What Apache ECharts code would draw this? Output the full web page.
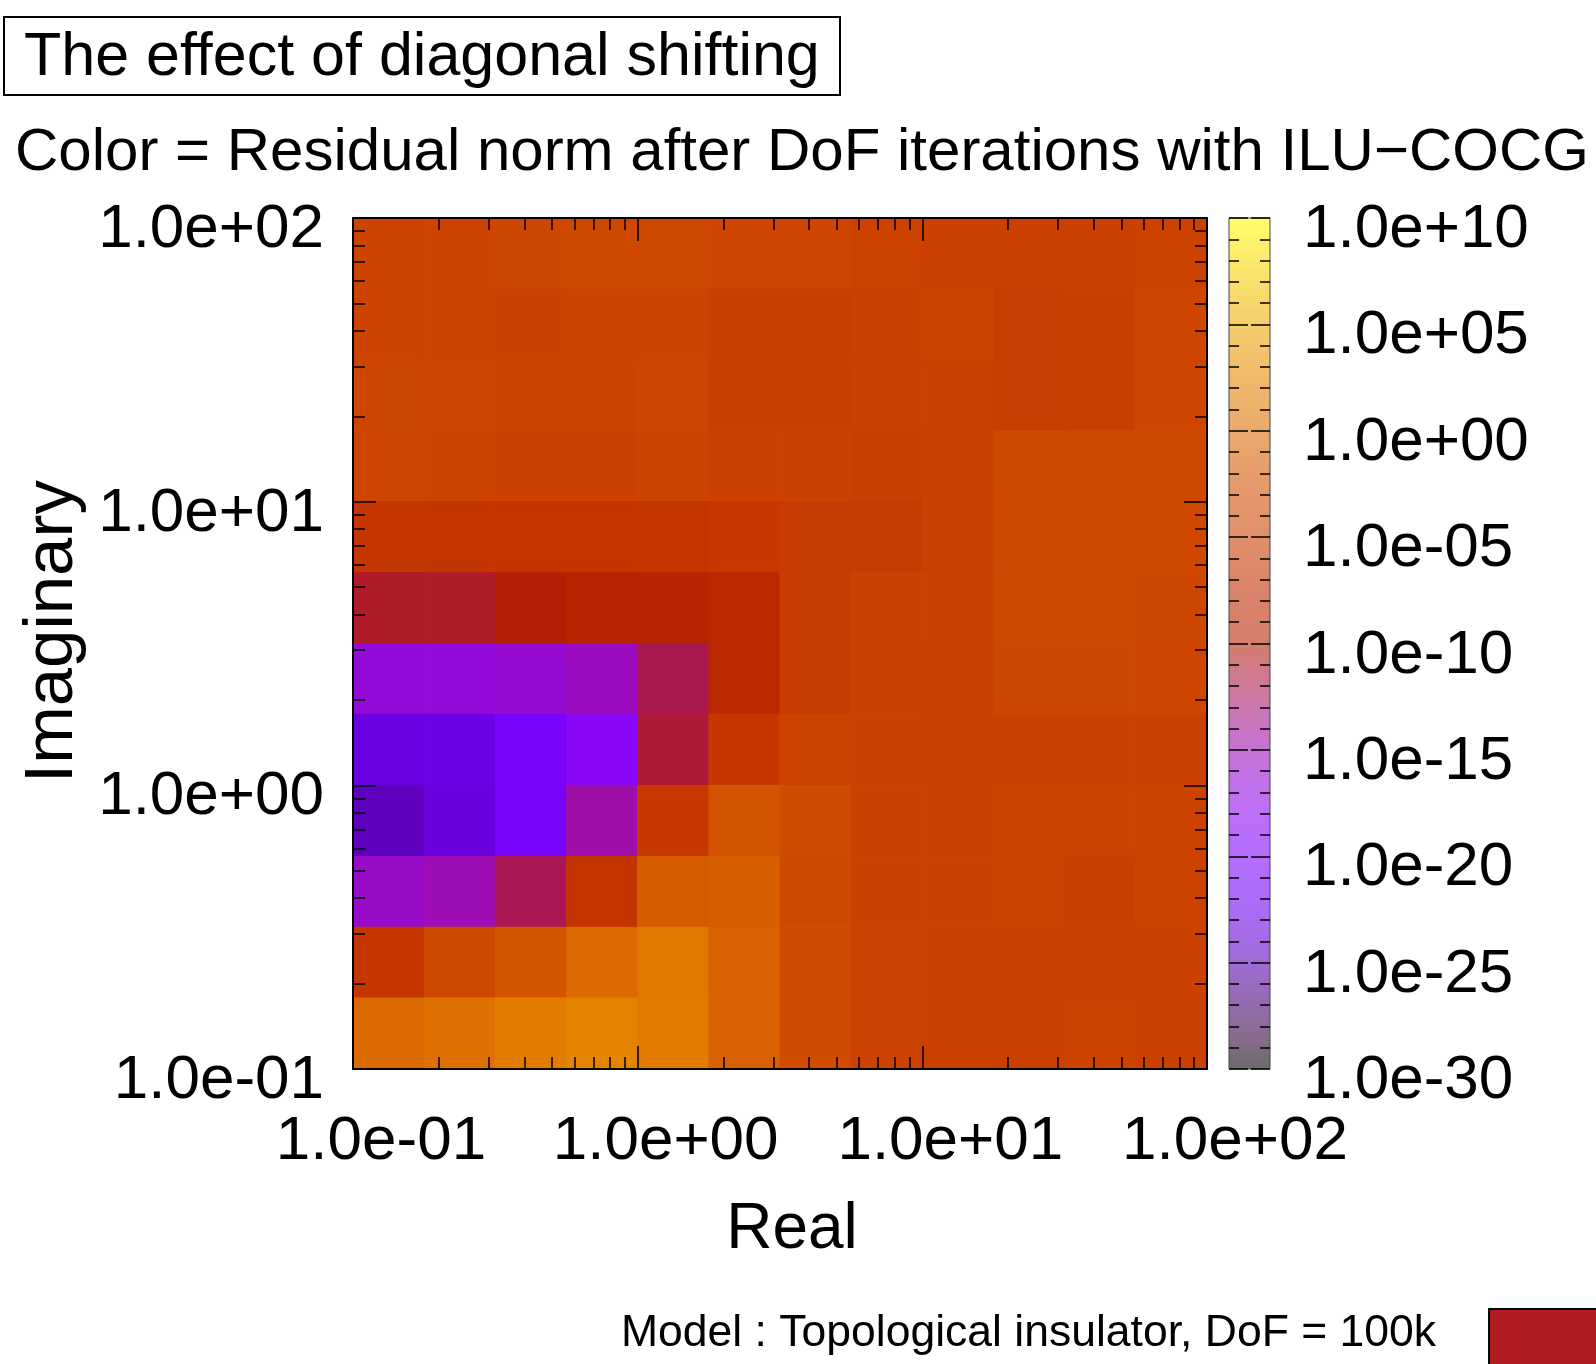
<!DOCTYPE html>
<html>
<head>
<meta charset="utf-8">
<script src="https://cdn.jsdelivr.net/npm/echarts@6/dist/echarts.min.js"></script>
<style>
  html, body { margin: 0; padding: 0; background: #fff; }
  #heat { width: 1596px; height: 1364px; }
</style>
</head>
<body>
<div id="heat"></div>
<script>
// cell edges of the shift grid (4 cells per decade)
var realEdges = [0.1, 0.178, 0.316, 0.562, 1, 1.78, 3.16, 5.62, 10, 17.8, 31.6, 56.2, 100];
var imagEdges = [0.1, 0.178, 0.316, 0.562, 1, 1.78, 3.16, 5.62, 10, 17.8, 31.6, 56.2, 100];

// log10(residual norm), rows from top (Imag 56-100) down to bottom (Imag 0.1-0.18)
var log10Residual = [
    [-4.3, -4.3, -3.9, -3.7, -3.8, -4.0, -4.0, -4.4, -4.7, -4.8, -4.8, -4.4],
    [-4.3, -4.3, -4.6, -4.3, -4.3, -4.9, -4.9, -4.6, -4.3, -5.1, -4.9, -4.0],
    [-3.9, -4.1, -4.2, -4.2, -4.0, -4.9, -4.9, -4.6, -4.6, -5.1, -4.9, -4.0],
    [-4.1, -4.3, -4.6, -4.6, -4.3, -4.6, -4.6, -4.9, -4.6, -3.7, -3.7, -3.7],
    [-6.3, -6.4, -6.4, -6.4, -6.3, -5.9, -5.4, -5.4, -4.7, -3.7, -3.7, -3.7],
    [-11.0, -11.0, -10.1, -9.2, -9.2, -8.3, -5.3, -4.6, -4.6, -3.7, -3.7, -3.9],
    [-16.5, -16.5, -16.2, -15.4, -12.0, -8.3, -5.3, -4.6, -4.8, -3.9, -3.9, -4.0],
    [-23.1, -22.8, -21.1, -18.3, -11.4, -6.0, -4.4, -4.6, -4.7, -4.6, -4.6, -4.6],
    [-24.6, -23.3, -21.1, -14.6, -5.9, -2.4, -3.4, -4.6, -4.6, -4.2, -4.2, -4.4],
    [-15.8, -15.0, -12.2, -6.4, -1.5, -1.3, -3.6, -4.6, -4.6, -4.3, -5.0, -4.4],
    [-6.2, -3.7, -2.3, -0.2, 1.1, -1.0, -3.3, -4.5, -4.6, -4.7, -4.8, -4.6],
    [-0.2, 0.4, 1.4, 2.0, 1.3, -1.0, -3.3, -4.5, -4.6, -4.8, -4.4, -4.6]
];

// log axis minor tick positions (2..9 of each decade)
var minorTicks = [0.2, 0.3, 0.4, 0.5, 0.6, 0.7, 0.8, 0.9, 2, 3, 4, 5, 6, 7, 8, 9, 20, 30, 40, 50, 60, 70, 80, 90];

var seriesName = 'Model : Topological insulator, DoF = 100k';
var FONT = "'Liberation Sans', Arial, sans-serif";

// gnuplot default palette (rgbformulae 7,5,15)
function gnuplotColor(t) {
    var r = Math.sqrt(t), g = t * t * t, b = Math.max(0, Math.sin(2 * Math.PI * t));
    return 'rgb(' + Math.round(r * 255) + ',' + Math.round(g * 255) + ',' + Math.round(b * 255) + ')';
}
var paletteStops = [];
for (var i = 0; i <= 40; i++) paletteStops.push(gnuplotColor(i / 40));

function expLabel(e) {
    var a = Math.abs(e);
    return '1.0e' + (e < 0 ? '-' : '+') + (a < 10 ? '0' : '') + a;
}
function logLabel(v) {
    return expLabel(Math.round(Math.log10(v)));
}

var cells = [];
log10Residual.forEach(function (row, k) {
    var r = log10Residual.length - 1 - k;
    row.forEach(function (v, c) {
        cells.push([realEdges[c], imagEdges[r], v, realEdges[c + 1], imagEdges[r + 1]]);
    });
});

function renderCell(params, api) {
    var p0 = api.coord([api.value(0), api.value(1)]);
    var p1 = api.coord([api.value(3), api.value(4)]);
    var col = api.visual('color');
    return {
        type: 'rect',
        shape: { x: p0[0], y: p1[1], width: p1[0] - p0[0], height: p0[1] - p1[1] },
        style: { fill: col, stroke: col, lineWidth: 1 }
    };
}

function logAxis(pos, withLabels, minor) {
    var isX = (pos === 'bottom' || pos === 'top');
    var ax = {
        gridIndex: 0,
        type: 'log',
        logBase: 10,
        min: 0.1,
        max: 100,
        position: pos,
        z: 10,
        splitLine: { show: false },
        axisLine: { show: !minor, onZero: false, lineStyle: { color: '#000', width: 2 } },
        axisTick: { show: true, inside: true, length: minor ? 12 : 23, lineStyle: { color: '#000', width: 1.5 } },
        axisLabel: { show: false }
    };
    if (minor) {
        ax.axisTick.customValues = minorTicks;
    }
    if (withLabels) {
        ax.axisLabel = isX ? {
            show: true, formatter: logLabel, color: '#000', fontFamily: FONT, fontSize: 62,
            margin: 42, padding: [0, 0, 0, 56]
        } : {
            show: true, formatter: logLabel, color: '#000', fontFamily: FONT, fontSize: 62,
            margin: 29, verticalAlign: 'top', lineHeight: 24
        };
        ax.name = isX ? 'Real' : 'Imaginary';
        ax.nameLocation = 'middle';
        ax.nameGap = isX ? 129 : 255;
        ax.nameTextStyle = isX
            ? { color: '#000', fontFamily: FONT, fontSize: 64, padding: [0, 0, 0, 24] }
            : { color: '#000', fontFamily: FONT, fontSize: 69, padding: [0, 0, 0, 24] };
    }
    return ax;
}

// colour box ticks, one axis on each side of the box
function cbAxis(side) {
    return {
        gridIndex: 1,
        type: 'value',
        min: -30,
        max: 10,
        interval: 5,
        position: side,
        z: 130,
        splitLine: { show: false },
        axisLine: { show: false, onZero: false },
        axisTick: { show: true, inside: true, length: 19, lineStyle: { color: '#000', width: 1.5 } },
        minorTick: { show: true, splitNumber: 5, length: 10, lineStyle: { color: '#000', width: 1.5 } },
        axisLabel: side === 'left' ? { show: false } : {
            show: true, formatter: expLabel, color: '#000', fontFamily: FONT,
            fontSize: 62, margin: 33, verticalAlign: 'top', lineHeight: 24
        }
    };
}

var option = {
    backgroundColor: '#fff',
    animation: false,
    title: [
        {
            text: 'The effect of diagonal shifting',
            left: 4,
            top: 17,
            padding: [11, 20, 7, 20],
            borderColor: '#000',
            borderWidth: 2,
            textStyle: { color: '#000', fontFamily: FONT, fontSize: 61, fontWeight: 'normal', lineHeight: 60 }
        },
        {
            text: 'Color = Residual norm after DoF iterations with ILU\u2212COCG',
            left: 15,
            top: 123,
            padding: 0,
            textStyle: { color: '#000', fontFamily: FONT, fontSize: 60, fontWeight: 'normal', lineHeight: 60 }
        }
    ],
    legend: {
        left: 621,
        top: 1308,
        padding: 0,
        icon: 'rect',
        align: 'right',
        itemWidth: 140,
        itemHeight: 80,
        selectedMode: false,
        formatter: function (name) { return name + '\n '; },
        textStyle: { color: '#000', fontFamily: FONT, fontSize: 44.5, lineHeight: 30, padding: [0, 48, 0, 0] },
        data: [{ name: seriesName, itemStyle: { color: '#b01c20', borderColor: '#000', borderWidth: 2 } }]
    },
    grid: [
        { left: 353, top: 218, width: 854, height: 851, show: false },
        { left: 1229, top: 218, width: 41, height: 851, show: true, borderColor: '#444', borderWidth: 1, backgroundColor: 'transparent', z: 120 }
    ],
    xAxis: [
        logAxis('bottom', true, false),
        logAxis('bottom', false, true),
        logAxis('top', false, false),
        logAxis('top', false, true),
        { gridIndex: 1, type: 'value', min: 0, max: 1, show: false }
    ],
    yAxis: [
        logAxis('left', true, false),
        logAxis('left', false, true),
        logAxis('right', false, false),
        logAxis('right', false, true),
        cbAxis('right'),
        cbAxis('left')
    ],
    visualMap: {
        type: 'continuous',
        min: -30,
        max: 10,
        dimension: 2,
        seriesIndex: 0,
        calculable: false,
        hoverLink: false,
        orient: 'vertical',
        left: 1229,
        top: 218,
        padding: 0,
        itemWidth: 41,
        itemHeight: 851,
        inRange: { color: paletteStops }
    },
    graphic: [
        {
            type: 'rect',
            left: 1229,
            top: 218,
            silent: true,
            z: 100,
            shape: { width: 41, height: 851 },
            style: { fill: 'rgba(255,255,255,0.42)' }
        }
    ],
    series: [
        {
            name: seriesName,
            type: 'custom',
            xAxisIndex: 0,
            yAxisIndex: 0,
            renderItem: renderCell,
            clip: true,
            encode: { x: [0, 3], y: [1, 4] },
            itemStyle: { color: '#b01c20' },
            data: cells
        }
    ]
};

var myChart = echarts.init(document.getElementById('heat'));
myChart.setOption(option);
</script>
</body>
</html>
